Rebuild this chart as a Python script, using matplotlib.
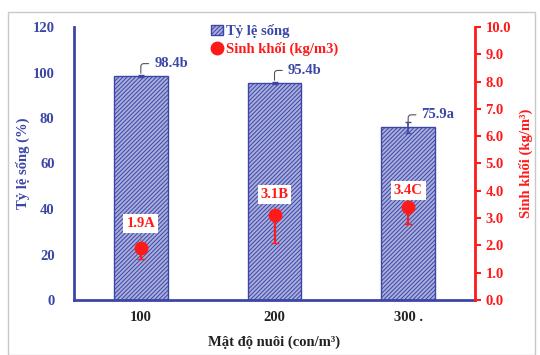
import matplotlib
matplotlib.use('Agg')

import matplotlib.pyplot as plt
from matplotlib.patches import Rectangle
from matplotlib.lines import Line2D

# data
densities = ['100', '200', '300 .']
survival = [98.4, 95.4, 75.9]
survival_err = [0.4, 0.5, 2.3]
survival_tags = ['98.4b', '95.4b', '75.9a']
biomass = [1.9, 3.1, 3.4]
biomass_err_low = [0.4, 1.0, 0.6]
biomass_tags = ['1.9A', '3.1B', '3.4C']

NAVY = '#3c46a6'
RED = '#ff1a1a'
BAR_FACE = '#a9aedc'

plt.rcParams['font.family'] = ['Liberation Serif', 'DejaVu Serif']
plt.rcParams['font.weight'] = 'bold'
plt.rcParams['axes.labelweight'] = 'bold'
plt.rcParams['hatch.color'] = NAVY
plt.rcParams['hatch.linewidth'] = 0.7

fig = plt.figure(figsize=(5.4, 3.55), dpi=100)
fig.patches.append(Rectangle((8 / 540, 0), 1 - 13 / 540, 1 - 12 / 355, transform=fig.transFigure,
                             fill=False, edgecolor='#c8c8c8', linewidth=1.0))
ax = fig.add_axes([74 / 540, 55 / 355, 401 / 540, 273 / 355])

x = list(range(len(densities)))
ax.bar(x, survival, width=0.4, color=BAR_FACE, edgecolor=NAVY, hatch='////////', linewidth=1.0,
       yerr=survival_err, error_kw=dict(ecolor=NAVY, capsize=2, elinewidth=1.2), zorder=2)
ax.set_xlim(-0.5, 2.5)
ax.set_ylim(0, 120)
ax.set_yticks(range(0, 121, 20))
ax.set_xticks(x)
ax.set_xticklabels(densities, fontsize=10.5, color='#222222')
ax.tick_params(axis='y', colors=NAVY, labelsize=10.5, length=0, pad=14)
ax.tick_params(axis='x', length=0, pad=8)
ax.spines['top'].set_visible(False)
ax.spines['right'].set_visible(False)
ax.spines['left'].set_color(NAVY)
ax.spines['left'].set_linewidth(2)
ax.spines['bottom'].set_color(NAVY)
ax.spines['bottom'].set_linewidth(2)
ax.set_ylabel('Tỷ lệ sống (%)', color=NAVY, fontsize=10.5, labelpad=2)
ax.set_xlabel('Mật độ nuôi (con/m³)', color='#222222', fontsize=10.5, labelpad=8)

for xi, yi, tag in zip(x, survival, survival_tags):
    ax.annotate(tag, xy=(xi, yi), xytext=(xi + 0.1, yi + 5.5), color=NAVY, fontsize=10.5,
                va='center', ha='left',
                arrowprops=dict(arrowstyle='-', color='#555555', lw=0.8,
                                connectionstyle='angle,angleA=0,angleB=90,rad=3'))

ax2 = ax.twinx()
ax2.set_ylim(0, 10)
ax2.set_yticks([i for i in range(11)])
ax2.set_yticklabels([f'{i:.1f}' for i in range(11)])
ax2.errorbar(x, biomass, yerr=[biomass_err_low, [0, 0, 0]], fmt='o', color=RED, ms=9,
             ecolor=RED, elinewidth=1.6, capsize=3, zorder=3)
for spine in ['top', 'left', 'bottom']:
    ax2.spines[spine].set_visible(False)
ax2.spines['right'].set_color(RED)
ax2.spines['right'].set_linewidth(2)
ax2.tick_params(axis='y', colors=RED, labelsize=10.5, direction='out', length=4, width=1.5)
ax2.set_ylabel('Sinh khối (kg/m³)', color=RED, fontsize=10.5, labelpad=6)

tag_heights = [2.8, 3.85, 4.0]
for xi, yi, th, tag in zip(x, biomass, tag_heights, biomass_tags):
    ax2.annotate(tag, xy=(xi, yi), xytext=(xi, th), color=RED, fontsize=10.5,
                 ha='center', va='center',
                 bbox=dict(boxstyle='square,pad=0.2', fc='white', ec='none'),
                 arrowprops=dict(arrowstyle='-', color='#777777', lw=0.6))

handles = [Rectangle((0, 0), 1, 1, facecolor=BAR_FACE, edgecolor=NAVY, hatch='////////'),
           Line2D([], [], marker='o', color=RED, ls='none', ms=9)]
leg = ax.legend(handles, ['Tỷ lệ sống', 'Sinh khối (kg/m3)'], loc='upper center',
                bbox_to_anchor=(0.5, 1.06), frameon=False, fontsize=10.5,
                handlelength=0.8, handletextpad=0.2, labelspacing=0.3)
leg.get_texts()[0].set_color(NAVY)
leg.get_texts()[1].set_color(RED)

plt.savefig('out.png', dpi=100)
